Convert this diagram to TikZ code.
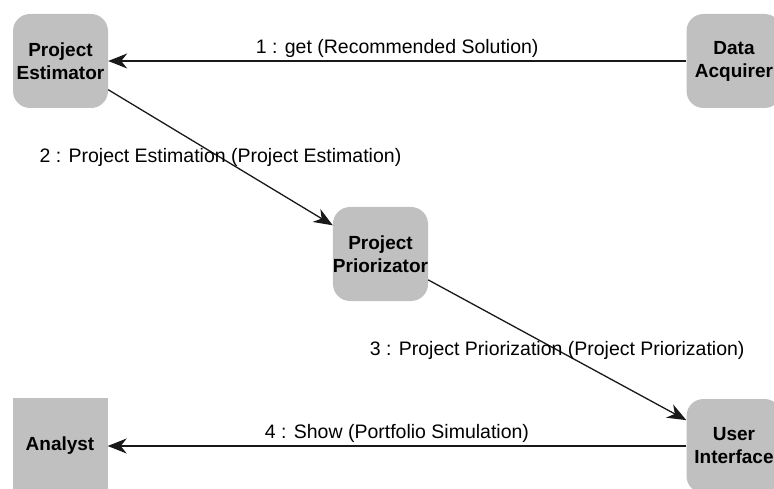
\documentclass[tikz,border=0pt]{standalone}
\usepackage{fontspec}
\setmainfont{Liberation Sans}
\usetikzlibrary{arrows.meta}
\definecolor{boxgray}{RGB}{192,192,192}

\begin{document}
\begin{tikzpicture}[x=1pt,y=-1pt]
\tikzstyle{every node}+=[inner sep=0pt]
\tikzstyle{object}=[fill=boxgray, rounded corners=17pt, minimum width=95pt, minimum height=94pt, align=center, font=\bfseries\fontsize{19}{23}\selectfont]
\tikzstyle{actor}=[object, sharp corners, minimum height=96pt]
\tikzstyle{msg}=[draw=black!90, line width=1.3pt, -{Stealth[length=19pt,width=15pt,inset=6pt]}]
\tikzstyle{msglabel}=[font=\fontsize{19.5}{22}\selectfont]
\clip (0,0) rectangle (774,489);
\node [object] (estimator) at (60.5,61) {Project\\Estimator};
\node [object] (acquirer) at (734,61) {Data\\Acquirer};
\node [object] (priorizator) at (380.5,254) {Project\\Priorizator};
\node [actor] (analyst) at (60,446) {Analyst};
\node [object] (ui) at (734,446) {User\\Interface};
\draw [msg] (acquirer) -- node [msglabel, midway, above=3pt] {1 : get (Recommended Solution)} (estimator);
\draw [msg] (estimator) -- node [msglabel, midway] {2 : Project Estimation (Project Estimation)} (priorizator);
\draw [msg] (priorizator) -- node [msglabel, midway] {3 : Project Priorization (Project Priorization)} (ui);
\draw [msg] (ui) -- node [msglabel, midway, above=3pt] {4 : Show (Portfolio Simulation)} (analyst);
\end{tikzpicture}
\end{document}
